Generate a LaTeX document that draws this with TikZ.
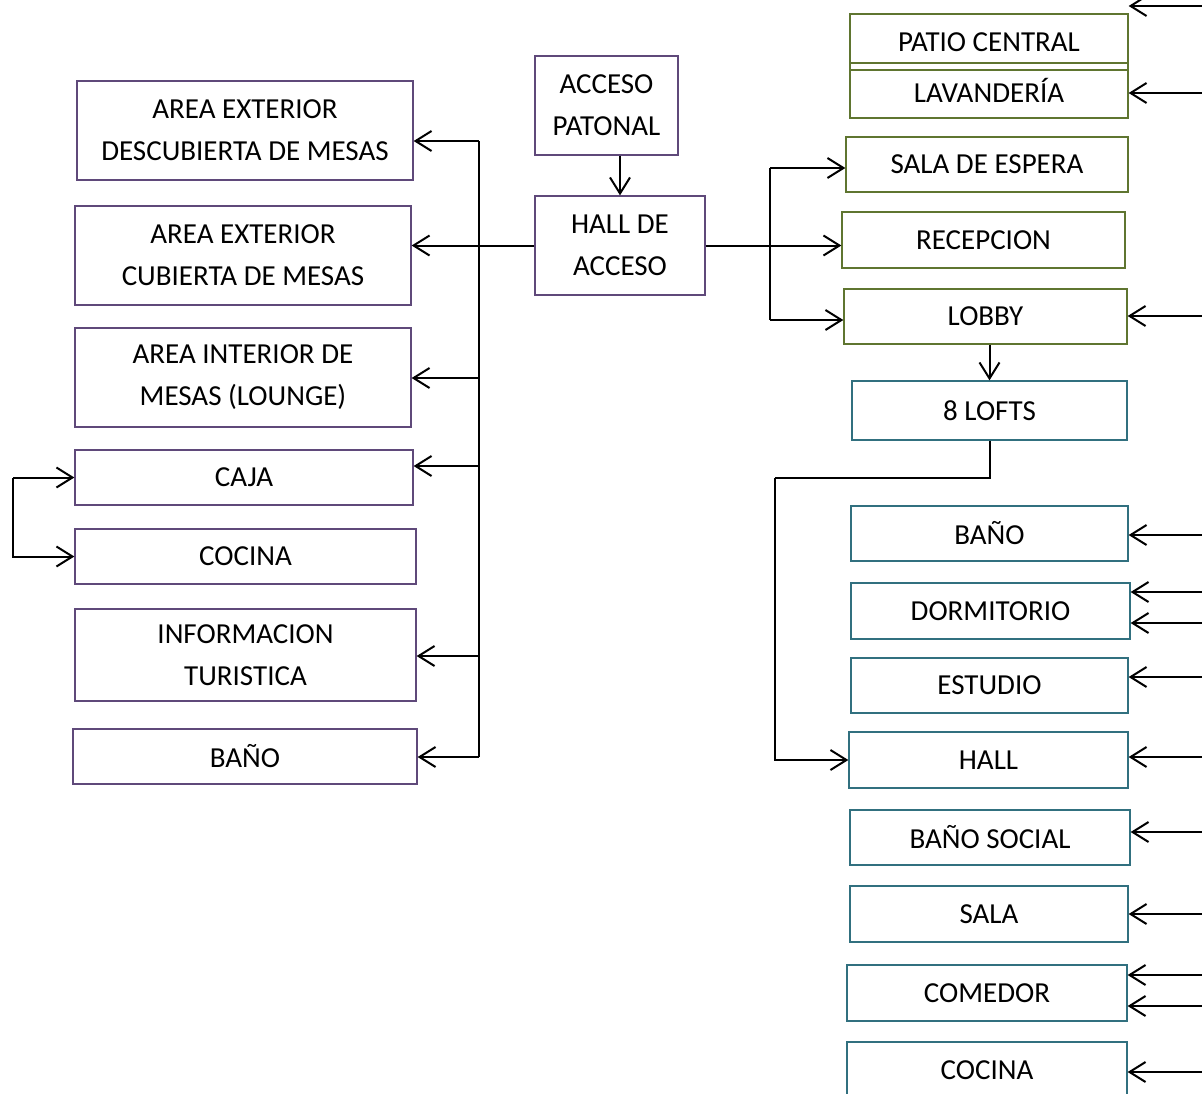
\documentclass[tikz,border=0pt]{standalone}
\usepackage{fontspec}
\setmainfont{Carlito}
\usepackage{tikz}
\usetikzlibrary{positioning, arrows.meta, calc}
\definecolor{cL}{RGB}{95,73,122}
\definecolor{cG}{RGB}{95,117,48}
\definecolor{cT}{RGB}{49,112,127}

\tikzset{
  box/.style={draw, line width=1.3pt, align=center, inner sep=0pt,
    font=\fontsize{29}{42}\selectfont},
  lbox/.style={box, draw=cL},
  gbox/.style={box, draw=cG},
  tbox/.style={box, draw=cT},
  arr/.style={-{Straight Barb[length=16pt, width=20pt]}, line width=2pt},
  wire/.style={line width=2pt}
}

\begin{document}
\begin{tikzpicture}[x=1pt, y=-1pt]
    \useasboundingbox (0,0) rectangle (1202,1093);

    % Left column
    \node[lbox, minimum width=336pt, minimum height=99pt] (descub) at (245,130.5) {AREA EXTERIOR\\DESCUBIERTA DE MESAS};
    \node[lbox, minimum width=336pt, minimum height=99pt] (cubier) at (243,255.5) {AREA EXTERIOR\\CUBIERTA DE MESAS};
    \node[lbox, minimum width=336pt, minimum height=99pt] (inter) at (243,377.5) {AREA INTERIOR DE\\MESAS (LOUNGE)};
    \node[lbox, minimum width=338pt, minimum height=55pt] (caja) at (244,477.5) {CAJA};
    \node[lbox, minimum width=341pt, minimum height=55pt] (cocinaL) at (245.5,556.5) {COCINA};
    \node[lbox, minimum width=341pt, minimum height=92pt] (info) at (245.5,655) {INFORMACION\\TURISTICA};
    \node[lbox, minimum width=344pt, minimum height=55pt] (banoL) at (245,756.5) {BAÑO};

    % Access
    \node[lbox, minimum width=143pt, minimum height=99pt] (acceso) at (606.5,105.5) {ACCESO\\PATONAL};
    \node[lbox, minimum width=170pt, minimum height=99pt] (hall) at (620,245.5) {HALL DE\\ACCESO};

    % Right column, common areas
    \node[gbox, minimum width=278pt, minimum height=56pt] (patio) at (989,42) {PATIO CENTRAL};
    \node[gbox, minimum width=278pt, minimum height=55pt] (lav) at (989,90.5) {LAVANDERÍA};
    \node[gbox, minimum width=282pt, minimum height=55pt] (espera) at (987,164.5) {SALA DE ESPERA};
    \node[gbox, minimum width=283pt, minimum height=56pt] (recep) at (983.5,240) {RECEPCION};
    \node[gbox, minimum width=283pt, minimum height=55pt] (lobby) at (985.5,316.5) {LOBBY};

    % Lofts
    \node[tbox, minimum width=275pt, minimum height=59pt] (lofts) at (989.5,410.5) {8 LOFTS};
    \node[tbox, minimum width=277pt, minimum height=55pt] (banoR) at (989.5,533.5) {BAÑO};
    \node[tbox, minimum width=279pt, minimum height=56pt] (dorm) at (990.5,611) {DORMITORIO};
    \node[tbox, minimum width=277pt, minimum height=55pt] (estudio) at (989.5,685.5) {ESTUDIO};
    \node[tbox, minimum width=279pt, minimum height=56pt] (hallR) at (988.5,760) {HALL};
    \node[tbox, minimum width=280pt, minimum height=55pt] (bsocial) at (990,837.5) {BAÑO SOCIAL};
    \node[tbox, minimum width=278pt, minimum height=56pt] (sala) at (989,914) {SALA};
    \node[tbox, minimum width=280pt, minimum height=56pt] (comedor) at (987,993) {COMEDOR};
    \node[tbox, minimum width=280pt, minimum height=56pt] (cocinaR) at (987,1070) {COCINA};

    % Trunk on the left
    \coordinate (lt) at (479,141);
    \coordinate (lb) at (479,757);
    \draw[wire] (lt) -- (lb);
    \draw[arr] (lt) -- (lt -| descub.east);
    \draw[arr] (hall.west) -- (hall.west -| cubier.east);
    \draw[arr] (lt |- 0,378) -- (inter.east |- 0,378);
    \draw[arr] (lt |- 0,466) -- (caja.east |- 0,466);
    \draw[arr] (lt |- 0,656) -- (info.east |- 0,656);
    \draw[arr] (lb) -- (lb -| banoL.east);

    % Caja and cocina
    \coordinate (ck) at (13,477.5);
    \draw[arr] (ck) -- (caja.west);
    \draw[arr] (ck) |- (cocinaL.west);

    % Access to hall
    \draw[arr] (hall.north |- acceso.south) -- (hall.north);

    % Hall to the right
    \coordinate (rt) at (770,168);
    \coordinate (rb) at (770,320);
    \draw[wire] (rt) -- (rb);
    \draw[arr] (hall.east) -- (hall.east -| recep.west);
    \draw[arr] (rt) -- (rt -| espera.west);
    \draw[arr] (rb) -- (rb -| lobby.west);

    % Lobby to lofts
    \draw[arr] (lofts.north |- lobby.south) -- (lofts.north);
    \coordinate (lk) at (775,478);
    \draw[wire] (lofts.south) |- (lk);
    \draw[arr] (lk) |- (hallR.west);

    % Incoming from the right edge
    \foreach \y/\n in {6/patio, 93/lav, 316/lobby, 535/banoR, 592/dorm, 623/dorm,
        677/estudio, 757/hallR, 832/bsocial, 914/sala, 975/comedor, 1006/comedor, 1072/cocinaR}
    {
        \coordinate (in) at (1202,\y);
        \draw[arr] (in) -- (in -| \n.east);
    }
\end{tikzpicture}
\end{document}
